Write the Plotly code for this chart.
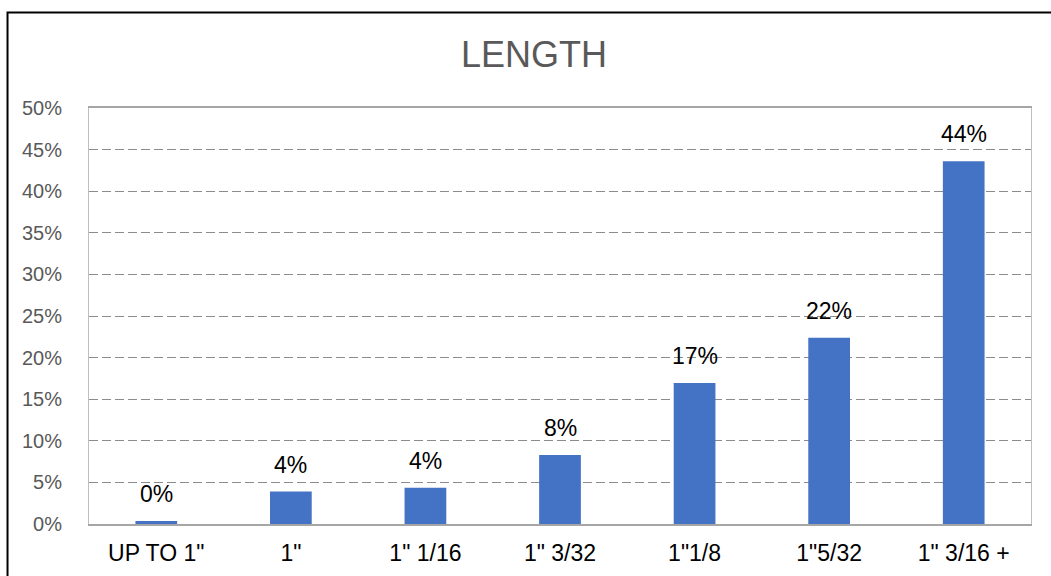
import plotly.graph_objects as go

# Fibre length distribution
categories = ['UP TO 1"', '1"', '1" 1/16', '1" 3/32', '1"1/8', '1"5/32', '1" 3/16 +']
shares = [0.0036, 0.039, 0.0435, 0.083, 0.1695, 0.224, 0.436]
y_ticks = [0, 0.05, 0.10, 0.15, 0.20, 0.25, 0.30, 0.35, 0.40, 0.45, 0.50]

FONT = "Liberation Sans, Arial, sans-serif"

fig = go.Figure()
fig.add_trace(go.Bar(
    x=categories,
    y=shares,
    marker=dict(color="#4472C4", line=dict(width=0)),
    width=0.31,
    hoverinfo="skip",
))

# value labels above each bar
for c, v in zip(categories, shares):
    fig.add_annotation(
        x=c, y=v, text=f"{v:.0%}", showarrow=False,
        xref="x", yref="y", yanchor="bottom", yshift=12,
        font=dict(family=FONT, size=23, color="#000000"),
    )

# outer chart frame (runs off the right and bottom edges)
fig.add_shape(
    type="rect", xref="paper", yref="paper",
    x0=-0.0865, x1=1.2, y0=-0.3, y1=1.2295,
    line=dict(color="#000000", width=2), fillcolor="rgba(0,0,0,0)", layer="above",
)

fig.update_layout(
    width=1051, height=576,
    margin=dict(l=89, r=20, t=108, b=52, autoexpand=False),
    paper_bgcolor="#ffffff", plot_bgcolor="#ffffff",
    showlegend=False,
    bargap=0.69,
    title=dict(
        text="LENGTH", x=534 / 1051, xanchor="center", xref="container",
        y=1 - 54 / 576, yanchor="middle", yref="container",
        font=dict(family=FONT, size=36, color="#595959"),
    ),
    xaxis=dict(
        type="category", automargin=False,
        showline=True, linecolor="#a6a6a6", linewidth=1.5, mirror=True,
        showgrid=False, ticks="",
        tickfont=dict(family=FONT, size=23, color="#000000"),
        ticklabelstandoff=8,
    ),
    yaxis=dict(
        range=[0, 0.5], automargin=False,
        tickvals=y_ticks, tickformat=".0%",
        showline=True, linecolor="#bfbfbf", linewidth=1, mirror=True,
        showgrid=True, gridcolor="#8c8c8c", gridwidth=1.3, griddash="9px,4px",
        zeroline=False, ticks="",
        tickfont=dict(family=FONT, size=20, color="#595959"),
        ticklabelstandoff=22,
    ),
)

fig.write_html("out.html")
